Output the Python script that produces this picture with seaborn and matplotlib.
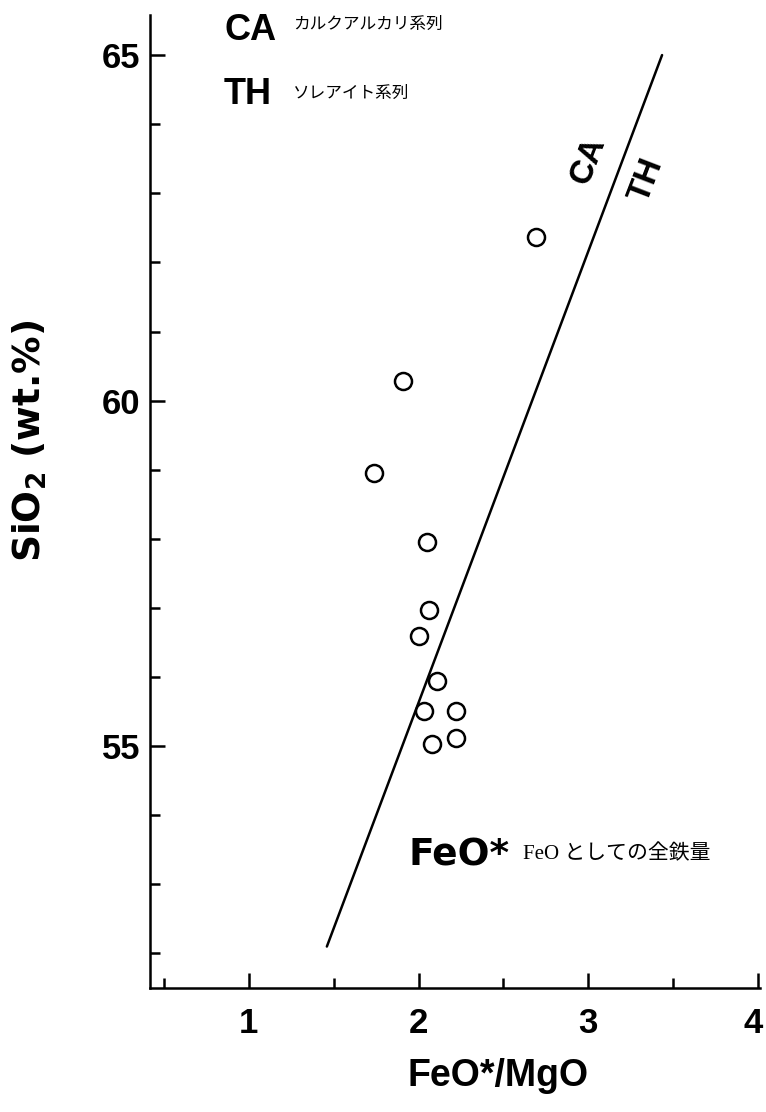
import matplotlib
matplotlib.use("Agg")
import matplotlib.pyplot as plt
import matplotlib.ticker as mticker
import matplotlib.transforms as mtrans
import seaborn as sns

# FeO*/MgO - SiO2 diagram
feo_mgo = [2.69, 1.91, 1.735, 2.05, 2.06, 2.00, 2.11, 2.03, 2.22, 2.08, 2.22]
sio2 = [62.37, 60.28, 58.95, 57.95, 56.97, 56.59, 55.94, 55.51, 55.51, 55.03, 55.12]

# CA / TH boundary line
line_x = [1.46, 3.435]
line_y = [52.1, 65.0]

x_ticks = [1, 2, 3, 4]
y_ticks = [55, 60, 65]

sns.set_style("ticks")
NUM = ["Liberation Sans", "DejaVu Sans"]
WIDE = ["DejaVu Sans"]
JP = ["Noto Sans CJK JP", "DejaVu Sans"]
plt.rcParams["font.family"] = NUM
plt.rcParams["mathtext.default"] = "regular"
plt.rcParams["text.color"] = "black"
plt.rcParams["xtick.color"] = "black"
plt.rcParams["ytick.color"] = "black"

W, H = 766, 1112
fig = plt.figure(figsize=(W / 100, H / 100), dpi=100)
ax = fig.add_axes([150 / W, 1 - 988 / H, 610 / W, 973 / H])

sns.lineplot(x=line_x, y=line_y, color="black", lw=1.8, ax=ax, zorder=2)
sns.scatterplot(x=feo_mgo, y=sio2, s=150, color="white", edgecolor="black",
                linewidth=1.8, ax=ax, zorder=3)

ax.set_xlim(0.418, 4.012)
ax.set_ylim(51.5, 65.58)
ax.set_xticks(x_ticks)
ax.set_yticks(y_ticks)
ax.xaxis.set_minor_locator(mticker.MultipleLocator(0.5))
ax.yaxis.set_minor_locator(mticker.MultipleLocator(1))
ax.set_xticklabels([str(t) for t in x_ticks], fontsize=25, fontweight="bold")
ax.set_yticklabels([str(t) for t in y_ticks], fontsize=25, fontweight="bold")
ax.tick_params(which="major", direction="in", length=11, width=1.8, colors="black")
ax.tick_params(which="minor", direction="in", length=7, width=1.8, colors="black")
ax.tick_params(axis="x", pad=14)
ax.tick_params(axis="y", pad=7)
sns.despine(ax=ax)
for s in ["left", "bottom"]:
    ax.spines[s].set_linewidth(1.8)
    ax.spines[s].set_color("black")
ax.set_xlabel("")
ax.set_ylabel("")
# the "4" sits right at the edge of the page
lab4 = ax.get_xticklabels()[-1]
lab4.set_transform(lab4.get_transform() + mtrans.ScaledTranslation(-0.05, 0, fig.dpi_scale_trans))

# axis titles
fig.text(498 / W, 1 - 1076 / H, "FeO*/MgO", fontsize=27, fontweight="bold",
         ha="center", va="center")
fig.text(30 / W, 1 - 441 / H, "SiO$_2$ (wt.%)", fontsize=27, fontweight="bold",
         family=WIDE, rotation=90, ha="center", va="center")

# notes
fig.text(224 / W, 1 - 31 / H, "CA", fontsize=26, fontweight="bold", va="center")
fig.text(293 / W, 1 - 24 / H, "カルクアルカリ系列", fontsize=12, family=JP, va="center")
fig.text(224 / W, 1 - 94 / H, "TH", fontsize=26, fontweight="bold", va="center")
fig.text(293 / W, 1 - 93 / H, "ソレアイト系列", fontsize=12, family=JP, va="center")
fig.text(408 / W, 1 - 856 / H, "FeO*", fontsize=27, fontweight="bold",
         family=WIDE, va="center")
fig.text(523 / W, 1 - 855 / H, "FeO としての全鉄量", fontsize=15,
         family=["Liberation Serif", "Noto Sans CJK JP"], va="center")

# labels along the boundary line
fig.text(588 / W, 1 - 160 / H, "CA", fontsize=24, fontweight="bold",
         rotation=69, ha="center", va="center")
fig.text(647 / W, 1 - 180 / H, "TH", fontsize=24, fontweight="bold",
         rotation=69, ha="center", va="center")

fig.savefig("out.png", dpi=100, facecolor="white")
